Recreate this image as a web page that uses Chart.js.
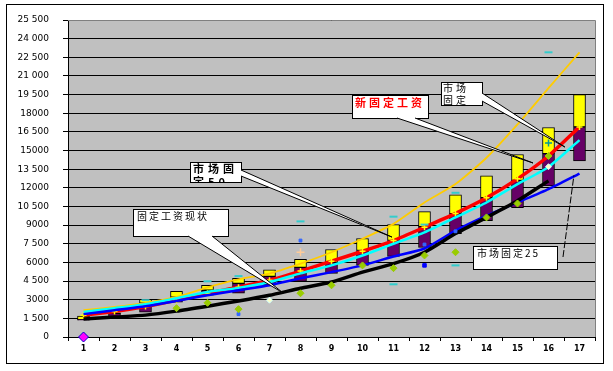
<!DOCTYPE html>
<html><head><meta charset="utf-8">
<script src="https://cdn.jsdelivr.net/npm/chart.js@4.4.1/dist/chart.umd.min.js"></script>
<style>html,body{margin:0;padding:0;background:#fff;}#wrap{width:613px;height:371px;position:relative;}</style>
</head><body><div id="wrap"><canvas id="c" width="613" height="371"></canvas></div>
<script>
// ---- data ----
const categories = ['1','2','3','4','5','6','7','8','9','10','11','12','13','14','15','16','17'];
const yTickLabels = ['0','1 500','3000','4 500','6000','7 500','9000','10 500','12000','13 500','15000','16 500','18000','19 500','21 000','22 500','24 000','25 500'];

const barLow  = [1350,1600,2000,2800,3360,3520,4160,4480,5120,5760,6480,7200,8320,9360,10400,12160,14160];
const barMid  = [1400,1900,2720,3200,3760,4320,4880,5600,6000,6960,7760,8880,9920,11200,12600,14750,16900];
const barHigh = [1680,1950,3040,3680,4160,4720,5410,6240,7040,7920,9040,10080,11440,12960,14680,16850,19500];

const newFixedPay   = [1750,2050,2450,2950,3520,4000,4560,5300,6100,6900,7760,8830,9940,11200,12720,14560,16900];
const marketHigh    = [2160,2420,2750,3220,4000,4640,5100,5900,6820,7900,9100,10820,12300,14420,17100,20020,22900];
const marketFixed50 = [2020,2320,2640,3120,3620,3950,4420,5120,5760,6560,7500,8420,9620,10820,12300,13680,15840];
const marketFixed25 = [1840,2160,2480,2900,3360,3760,4160,4720,5220,5760,6480,7120,8560,9760,10830,11900,13150];
const currentFixedPay = [1440,1600,1760,2080,2480,2900,3360,3920,4420,5220,5900,6820,8320,9620,10960,12560,null];

const ptGreen  = [null,null,null,2320,2750,2240,null,3520,4160,5760,5540,6560,6820,9620,10740,14560,null];
const ptCyanA  = [null,null,2960,null,4480,4900,null,9300,null,null,9680,9040,11600,null,null,22900,null];
const ptCyanB  = [null,null,null,null,null,null,null,null,null,null,4240,null,5760,null,null,null,null];
const ptBlue   = [null,null,null,null,null,1840,null,7760,null,null,null,7440,8500,null,null,null,null];
const ptBlueB  = [null,null,null,null,null,null,null,null,null,null,null,5760,null,null,null,null,null];
const ptPeach  = [null,null,null,null,null,null,null,6820,null,null,null,null,null,null,null,null,null];
const ptPale   = [null,null,null,null,null,null,2960,null,null,null,null,null,null,null,null,13700,null];
const ptTeal   = [null,null,null,null,null,null,null,null,null,null,null,null,null,null,null,15600,null];
const ptZero   = [0,null,null,null,null,null,null,null,null,null,null,null,null,null,null,null,null];

// callout annotations (box = layout in px, tip = [category index, value])
const callouts = [
  {lines:['固定工资现状'], box:[133,209,95,27], font:'10px "Noto Sans CJK SC"', color:'#000', sp:2, tx:137, ty:[216], base:[[188,236],[212,236]], tip:[6.44,3540]},
  {lines:['市场固','定50'], box:[190,162,51,20], font:'bold 11px "Noto Sans CJK SC"', color:'#000', sp:4, tx:193, ty:[169,182], base:[[241,170],[241,176]], tip:[9.95,8040]},
  {lines:['新固定工资'], box:[352,95,76,23], font:'bold 11px "Noto Sans CJK SC"', color:'#ff0000', sp:3, tx:355, ty:[103], base:[[397,118],[415,118]], tip:[14.5,14000]},
  {lines:['市场','固定'], box:[441,82,41,23], font:'10px "Noto Sans CJK SC"', color:'#000', sp:3, tx:443, ty:[88,100], base:[[482,93],[482,101]], tip:[15.53,15280]},
  {lines:['市场固定25'], box:[473,246,84,23], font:'10px "Noto Sans CJK SC"', color:'#000', sp:2, tx:477, ty:[253], leader:{from:[563,257], tip:[15.82,13000]}}
];

const framePlugin = {
  id:'frame',
  beforeDraw(chart){
    const {ctx, chartArea:a} = chart;
    ctx.save();
    ctx.fillStyle='#fff'; ctx.fillRect(0,0,chart.width,chart.height);
    ctx.fillStyle='#c0c0c0'; ctx.fillRect(a.left,a.top,a.right-a.left,a.bottom-a.top);
    ctx.strokeStyle='#000'; ctx.lineWidth=1; ctx.strokeRect(6.5,4.5,597,359);
    ctx.restore();
  },
  afterDatasetsDraw(chart){
    const {ctx, chartArea:a, scales} = chart;
    ctx.save();
    ctx.strokeStyle='#808080'; ctx.lineWidth=1;
    ctx.beginPath(); ctx.moveTo(a.left, a.top+0.5); ctx.lineTo(a.right+0.5, a.top+0.5); ctx.lineTo(a.right+0.5, a.bottom); ctx.stroke();
    const px = t => [scales.x.getPixelForValue(t[0]), scales.y.getPixelForValue(t[1])];
    callouts.forEach(c=>{
      const [bx,by,bw,bh] = c.box;
      ctx.fillStyle='#fff'; ctx.strokeStyle='#000'; ctx.lineWidth=1;
      ctx.fillRect(bx,by,bw,bh); ctx.strokeRect(bx+0.5,by+0.5,bw,bh);
      if (c.base){
        const [tx,ty] = px(c.tip);
        ctx.beginPath(); ctx.moveTo(c.base[0][0],c.base[0][1]); ctx.lineTo(tx,ty); ctx.lineTo(c.base[1][0],c.base[1][1]); ctx.closePath();
        ctx.fillStyle='#fff'; ctx.fill();
        ctx.beginPath(); ctx.moveTo(c.base[0][0],c.base[0][1]); ctx.lineTo(tx,ty); ctx.lineTo(c.base[1][0],c.base[1][1]); ctx.stroke();
      }
      if (c.leader){
        const [tx,ty] = px(c.leader.tip);
        ctx.setLineDash([7,2]);
        ctx.beginPath(); ctx.moveTo(c.leader.from[0],c.leader.from[1]); ctx.lineTo(tx,ty); ctx.stroke();
        ctx.setLineDash([]);
      }
      ctx.save();
      ctx.beginPath(); ctx.rect(bx+1,by+1,bw-1,bh-1); ctx.clip();
      ctx.font=c.font; ctx.fillStyle=c.color; ctx.textBaseline='middle'; ctx.textAlign='left';
      c.lines.forEach((ln,li)=>{
        let x=c.tx;
        for (const ch of ln){ ctx.fillText(ch,x,c.ty[li]); x += ctx.measureText(ch).width + c.sp; }
      });
      ctx.restore();
    });
    ctx.restore();
  }
};

const lineDs = (label,data,color,w,extra) => Object.assign({type:'line',label,data,borderColor:color,backgroundColor:color,borderWidth:w,pointRadius:0,tension:0.2,fill:false,order:1},extra||{});
const ptDs = (label,data,style,bg,border,r,bw,extra) => Object.assign({type:'line',label,data,showLine:false,pointStyle:style,pointRadius:r,backgroundColor:bg,borderColor:border,pointBorderWidth:bw,order:0},extra||{});

new Chart(document.getElementById('c').getContext('2d'), {
  type:'bar',
  data:{
    labels:categories,
    datasets:[
      lineDs('固定工资现状', currentFixedPay, '#000000', 3.5),
      lineDs('市场固定25', marketFixed25, '#0000ff', 2.5),
      lineDs('市场固定50', marketFixed50, '#00ffff', 2.5),
      lineDs('市场固定', marketHigh, '#ffcc00', 1.8),
      lineDs('新固定工资', newFixedPay, '#ff0000', 3.5, {pointRadius:3, pointStyle:'cross', pointBorderColor:'#ffff00', pointBorderWidth:1.5}),
      ptDs('g', ptGreen, 'rectRot', '#99cc00', '#99cc00', 3.5, 1),
      ptDs('c1', ptCyanA, 'line', '#33cccc', '#33cccc', 4, 2),
      ptDs('c2', ptCyanB, 'line', '#33cccc', '#33cccc', 4, 2),
      ptDs('b1', ptBlue, 'rect', '#3366ff', '#3366ff', 2, 1),
      ptDs('b2', ptBlueB, 'rect', '#0000ff', '#0000ff', 2.5, 1),
      ptDs('p', ptPeach, 'cross', '#ffcc99', '#ffcc99', 4, 1.5),
      ptDs('w', ptPale, 'rectRot', '#ffffcc', '#ccffff', 3, 1),
      ptDs('t', ptTeal, 'cross', '#009999', '#009999', 3.5, 1.5),
      ptDs('z', ptZero, 'rectRot', '#ff00ff', '#0000cc', 5, 1, {clip:false}),
      {type:'bar', label:'low', data:barLow.map((v,i)=>[v,barMid[i]]), backgroundColor:'#660066', borderColor:'#000', borderWidth:1, borderSkipped:false, barThickness:12, grouped:false, order:10},
      {type:'bar', label:'high', data:barMid.map((v,i)=>[v,barHigh[i]]), backgroundColor:'#ffff00', borderColor:'#000', borderWidth:1, borderSkipped:false, barThickness:12, grouped:false, order:10}
    ]
  },
  options:{
    responsive:false, animation:false,
    layout:{padding:{top:20,right:18,left:0,bottom:0}},
    plugins:{legend:{display:false}, tooltip:{enabled:false}},
    scales:{
      x:{offset:true, grid:{offset:true, drawOnChartArea:false, tickLength:4, color:'#000'}, border:{color:'#000', width:1},
         ticks:{font:{size:8, family:'DejaVu Sans', weight:'bold'}, color:'#000', padding:3, maxRotation:0, autoSkip:false},
         afterFit(s){ s.height=34; }},
      y:{min:0, max:25500, grid:{color:'#000', tickLength:5}, border:{color:'#000', width:1},
         ticks:{stepSize:1500, autoSkip:false, callback:(v,i)=>yTickLabels[i], font:{size:9, family:'DejaVu Sans'}, color:'#000', padding:14},
         afterFit(s){ s.width=68; }}
    }
  },
  plugins:[framePlugin]
});
</script></body></html>
